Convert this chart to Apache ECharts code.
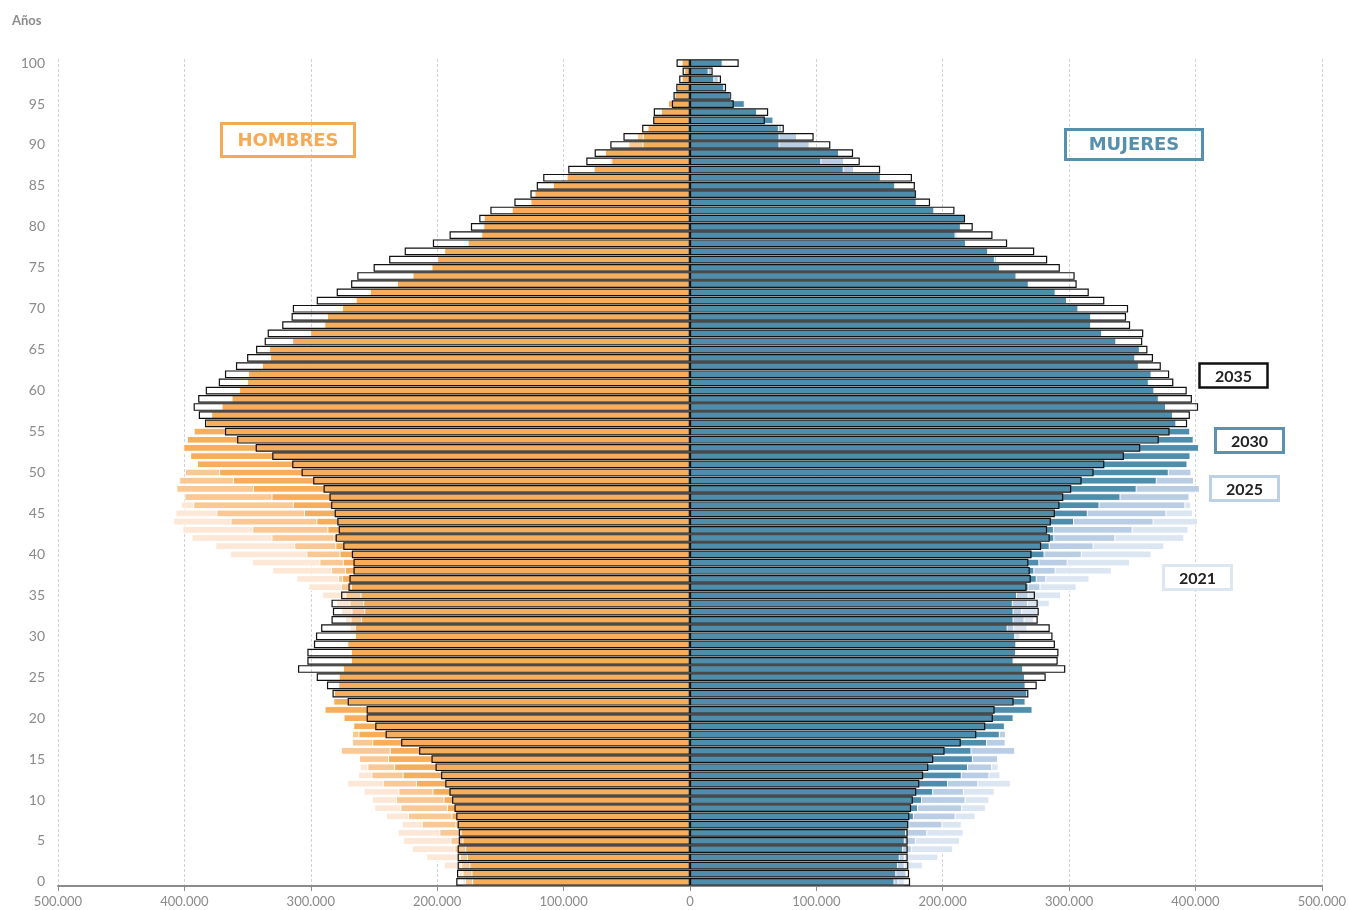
<!DOCTYPE html>
<html>
<head>
<meta charset="utf-8">
<title>Pirámide de población 2021-2035</title>
<script src="https://cdn.jsdelivr.net/npm/echarts@6/dist/echarts.min.js"></script>
<style>
  html, body { margin: 0; padding: 0; background: #fff; }
  #chart { width: 1349px; height: 910px; }
</style>
</head>
<body>
<div id="chart"></div>
<script>
'use strict';

// edades 0..100, valores en miles de personas
var edades = [];
for (var i = 0; i <= 100; i++) { edades.push(String(i)); }

var hombres2021 = [
  180,183,194.7,208.6,220.1,226.9,231.3,228.0,240.5,249.8,
  251.7,258.2,271.3,262.6,261.3,258,270,262,262,258,
  260,270,270,270,268,265,262,258,258,260,
  262,269.4,272.7,276.0,280,291.0,301.9,311.4,330.5,346.3,
  363.8,375.5,394.3,401.7,408.8,407.1,402.8,395,398,393,
  385,380,372,362,355,350,345,337,330,325,
  315,300,290,285,275,265,255,240,225,215,
  205,200,195,180,170,172,170,150,140,135,
  120,108,98,88,76,68,60,50,40,32,
  34,30,22,17,13,9,7,5,3.5,2.5,
  4];
var hombres2025 = [
  178,180,181,182,186.3,189.5,198.3,212.2,223.1,229.1,
  232.6,230.7,243.0,252.0,255.2,261.8,276.2,267.3,267.3,262,
  270,280,278,279,275,272,270,265,264,266,
  262,264,268.6,267.8,269.4,272.7,276.2,278.4,283.9,293.2,
  303.5,313.1,331.1,346.3,363.5,374.7,393.0,400.0,406.3,404.1,
  399.5,384,380,372,364,357,352,351,340,334,
  334,316,302,291,290,278,268,258,237,225,
  212,208,204,187,178,180,182,160,148,148,
  128,118,107,95,82,70,74,42,63.5,52,
  48.7,41.8,24,20,16,11,8,6,4.5,3.5,
  5];
var hombres2030 = [
  172.3,172.9,174.5,176.4,177.8,180.0,181.5,185.5,188.7,192.3,
  195.0,203.7,216.8,227.4,234.0,238.9,237.5,251.4,262.3,266.4,
  274.1,289.1,282.2,281.7,278.2,277.9,274.6,268.3,268.3,271.1,
  265.1,265.1,260.2,257.7,258.5,260.7,268.3,275.2,273.0,274.6,
  277.3,280.6,282.0,286.9,295.6,305.4,314.2,331.1,345.8,361.6,
  372.5,390.0,395.4,400.9,398.1,392.7,383.1,378.8,370.6,362.7,
  356.7,350.4,349.6,338.7,332.2,333.0,314.7,300.5,289.3,287.2,
  275.2,264.5,253.3,231.8,219.5,204.5,200.0,194.4,175.9,165.1,
  163.5,163.2,141.0,126.2,123.0,108.5,97.6,76.2,62.2,67.2,
  37.6,37.3,33.6,29.1,23.0,17.5,12.2,10.3,6.6,4.5,
  6.6];
var hombres2035 = [
  184.9,184.3,183.8,183.8,183.8,182.9,182.9,183.8,184.9,186.3,
  188.2,190.3,193.6,196.9,201.3,204.5,214.3,228.5,240.8,249.0,
  255.8,255.8,270.8,282.8,287.2,295.3,310.1,302.7,302.7,297.5,
  295.9,291.8,283.6,282.5,283.6,276.0,270.2,269.4,266.2,266.2,
  267.5,274.3,280.3,277.9,279.0,281.1,283.9,285.2,289.9,298.1,
  307.3,314.7,330.5,343.6,358.3,367.9,383.7,388.6,392.7,389.1,
  383.1,372.8,367.9,359.2,350.4,343.3,336.5,334.1,322.6,315.2,
  314.2,295.3,279.5,268.1,263.2,250.3,238.0,225.7,203.4,190.2,
  173.3,166.7,157.9,138.9,126.2,121.2,116.1,96.3,82.0,75.4,
  63.0,52.6,37.8,29.1,28.6,14.3,13.0,10.8,8.5,5.8,
  10.6];

var mujeres2021 = [
  170,172,184.3,196.6,208.3,213.8,216.5,215.1,226.0,234.2,
  237.0,241.1,253.9,245.7,244.3,240,250,245,245,240,
  245,255,255,258,258,255,253,250,252,255,
  261.5,267.0,272.5,275.2,284.7,293.7,306.0,316.1,333.9,348.3,
  365.3,375.4,391.2,394.5,402.1,398.0,396.7,393,395,390,
  385,380,372,365,358,352,348,342,336,332,
  325,312,302,296,288,280,272,262,245,238,
  225,222,218,200,192,195,200,180,170,172,
  152,145,138,128,118,110,105,95,85,70,
  68,60,48,38,30,25,20,14,11,8,
  14];
var mujeres2025 = [
  165,171.4,170,170,175.5,178.8,187.8,199.8,210.2,215.4,
  218.1,216.8,228.2,237.0,239.1,243.8,257.4,249.8,250.1,246,
  252,262,262,263,262,260,258,252,254,255,
  255,256.6,264.8,262.9,267.5,268,277.4,282.0,289.4,298.9,
  310.1,319.4,336.6,350.3,366.9,377.0,392.0,395.3,403.5,398.9,
  396.7,388,382,375,368,365,360,358,352,350,
  345,335,325,318,315,305,296,288,265,255,
  240,236,232,212,205,208,243.0,225,210,211.6,
  185,172,165,152,179.9,130,130,129.9,122.0,95,
  94.7,84.7,73.0,55,45,38,33.9,22,22.8,17.5,
  20];
var mujeres2030 = [
  161.9,163.3,164.6,166.0,168.7,170.0,171.0,173.6,177.2,180.5,
  183.7,192.5,204.2,215.1,220.0,223.9,222.8,235.1,245.2,249.2,
  256.1,271.1,265.6,267.0,265.6,265.1,263.7,256.1,258.0,258.3,
  257.4,251.4,256.1,256.1,255.5,258.8,268.0,274.4,272.5,276.5,
  280.6,284.7,288.3,288.0,303.9,314.8,324.1,340.7,353.5,369.4,
  378.9,393.7,396.1,402.9,398.6,395.9,384.9,382.2,376.7,371.0,
  367.5,363.1,365.3,355.2,352.4,356.0,337.4,326.2,317.5,317.5,
  307.4,298.4,289.4,268.1,258.4,245.3,241.3,236.0,218.4,210.2,
  214.4,217.6,193.4,179.4,178.8,162.4,151.1,121.7,104.0,118.0,
  70.9,70.9,70.4,66.1,53.2,43.4,31.7,27.2,19.3,14.8,
  25.9];
var mujeres2035 = [
  174.2,173.4,172.8,172.3,172.3,172.3,172.3,172.8,173.6,175.0,
  176.4,179.1,181.5,184.5,188.6,192.5,201.5,214.3,226.6,233.7,
  239.7,241.1,256.1,267.8,274.4,281.5,297.0,291.0,291.6,288.8,
  286.9,284.7,275.2,276.0,275.2,273.0,266.4,269.7,268.9,267.8,
  270.3,277.9,284.7,282.6,285.6,288.8,292.4,295.4,301.7,309.9,
  319.4,327.9,343.4,356.3,371.0,379.5,393.4,395.6,402.1,397.2,
  393.1,382.5,379.2,372.6,366.4,362.0,357.9,358.7,348.3,345.1,
  346.7,327.9,315.6,306.0,304.4,292.7,282.7,272.4,251.0,239.4,
  223.8,217.7,209.3,190.0,178.8,178.0,175.7,150.5,134.4,129.1,
  111.1,97.9,74.3,59.3,61.9,34.7,32.3,28.6,24.6,18.0,
  38.6];

var ticksX = [-500000, -400000, -300000, -200000, -100000, 0, 100000, 200000, 300000, 400000, 500000];

// miles -> personas (hombres a la izquierda, en negativo)
function aPersonas(arr, signo) {
  return arr.map(function (v) { return Math.round(v * 1000) * signo; });
}

function formatoMiles(v) {
  var s = String(Math.abs(v));
  return s.replace(/\B(?=(\d{3})+(?!\d))/g, '.');
}

function serieBarra(nombre, datos, color, borde, anchoBorde) {
  return {
    name: nombre,
    type: 'bar',
    data: datos,
    barGap: '-100%',
    barCategoryGap: '6%',
    silent: true,
    itemStyle: {
      color: color,
      borderColor: borde,
      borderWidth: anchoBorde
    }
  };
}

function caja(texto, x, y, w, h, colorBorde, colorTexto, fuente, relleno, grosor) {
  return {
    type: 'group',
    silent: true,
    z: 100,
    children: [
      {
        type: 'rect',
        z: 100,
        shape: { x: x, y: y, width: w, height: h },
        style: { fill: relleno, stroke: colorBorde, lineWidth: grosor }
      },
      {
        type: 'text',
        z: 101,
        style: {
          x: x + w / 2, y: y + h / 2 + 1,
          text: texto,
          fill: colorTexto,
          font: fuente,
          textAlign: 'center',
          verticalAlign: 'middle',
          textVerticalAlign: 'middle'
        }
      }
    ]
  };
}

var chart = echarts.init(document.getElementById('chart'), null, { renderer: 'canvas' });

var option = {
  animation: false,
  backgroundColor: '#ffffff',
  grid: { left: 58, right: 27, top: 59, bottom: 24, containLabel: false },
  xAxis: {
    type: 'value',
    min: ticksX[0],
    max: ticksX[ticksX.length - 1],
    interval: 100000,
    axisLine: { show: true, lineStyle: { color: '#8c8c8c', width: 2 } },
    axisTick: { show: true, length: 5, lineStyle: { color: '#8c8c8c' } },
    axisLabel: {
      color: '#8a8a8a', fontSize: 13, fontFamily: 'Lato', margin: 9,
      formatter: function (v) { return formatoMiles(v); }
    },
    splitLine: { show: true, lineStyle: { color: '#d2d2d2', type: [3, 2], width: 1 } }
  },
  yAxis: {
    type: 'category',
    data: edades,
    axisLine: { show: false },
    axisTick: { show: false },
    axisLabel: { interval: 4, color: '#8a8a8a', fontSize: 14, fontFamily: 'Lato', margin: 13 },
    splitLine: { show: false }
  },
  series: [
    serieBarra('Hombres 2021', aPersonas(hombres2021, -1), '#FDE7D7', '#ffffff', 1),
    serieBarra('Mujeres 2021', aPersonas(mujeres2021, 1), '#DCE6F2', '#ffffff', 1),
    serieBarra('Hombres 2025', aPersonas(hombres2025, -1), '#FAC894', '#ffffff', 1),
    serieBarra('Mujeres 2025', aPersonas(mujeres2025, 1), '#B9CDE5', '#ffffff', 1),
    serieBarra('Hombres 2030', aPersonas(hombres2030, -1), '#F6AE5C', '#ffffff', 1),
    serieBarra('Mujeres 2030', aPersonas(mujeres2030, 1), '#4F8DAD', '#ffffff', 1),
    serieBarra('Hombres 2035', aPersonas(hombres2035, -1), 'rgba(0,0,0,0)', '#111111', 1.2),
    serieBarra('Mujeres 2035', aPersonas(mujeres2035, 1), 'rgba(0,0,0,0)', '#111111', 1.2)
  ],
  graphic: [
    {
      type: 'text', left: 12, top: 14, silent: true,
      style: { text: 'Años', fill: '#8c8c8c', font: 'bold 13px Lato' }
    },
    caja('HOMBRES', 221.5, 123.5, 133, 33, '#F5AA55', '#F5AA55', 'bold 18px "DejaVu Sans"', 'rgba(0,0,0,0)', 3),
    caja('MUJERES', 1065.5, 129.5, 137, 30, '#5790AF', '#5790AF', 'bold 18px "DejaVu Sans"', 'rgba(0,0,0,0)', 3),
    caja('2035', 1199.5, 363.5, 68, 24, '#111111', '#222222', 'bold 16px Lato', '#ffffff', 2.5),
    caja('2030', 1215.5, 428.5, 68, 24, '#5A93B2', '#222222', 'bold 16px Lato', '#ffffff', 3),
    caja('2025', 1210.5, 476.5, 68, 24, '#BCD0E6', '#222222', 'bold 16px Lato', '#ffffff', 3),
    caja('2021', 1163.5, 565.5, 68, 24, '#DDE6F1', '#222222', 'bold 16px Lato', '#ffffff', 3)
  ]
};

chart.setOption(option);
</script>
</body>
</html>
